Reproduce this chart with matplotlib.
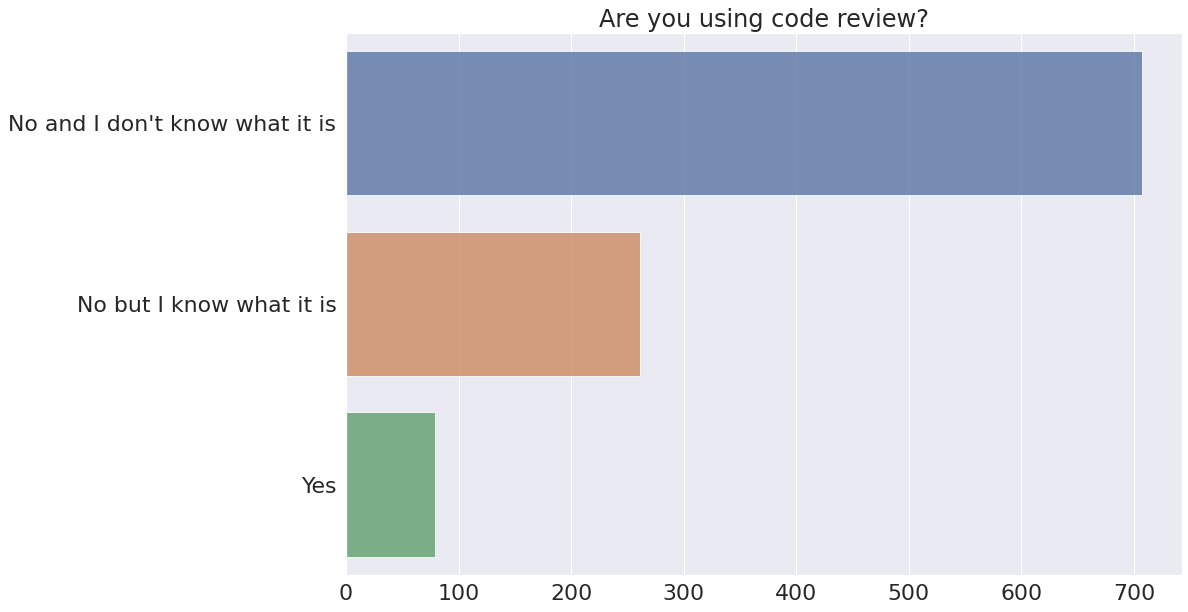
import matplotlib
matplotlib.use('Agg')
import matplotlib.pyplot as plt
import seaborn as sns

# 数据
answers = ["No and I don't know what it is", "No but I know what it is", "Yes"]
counts = [707, 261, 79]

sns.set_theme(style='darkgrid', font_scale=2)

fig, ax = plt.subplots(figsize=(16.5, 8.5), dpi=72)
sns.barplot(x=counts, y=answers, hue=answers, palette='deep', legend=False, alpha=0.8, ax=ax)
ax.set_title('Are you using code review?')
ax.set_xlabel('')
ax.set_ylabel('')

plt.subplots_adjust(left=0.2912, right=0.9947, top=0.9466, bottom=0.0605)
plt.savefig('out.png', dpi=72)
plt.close()
